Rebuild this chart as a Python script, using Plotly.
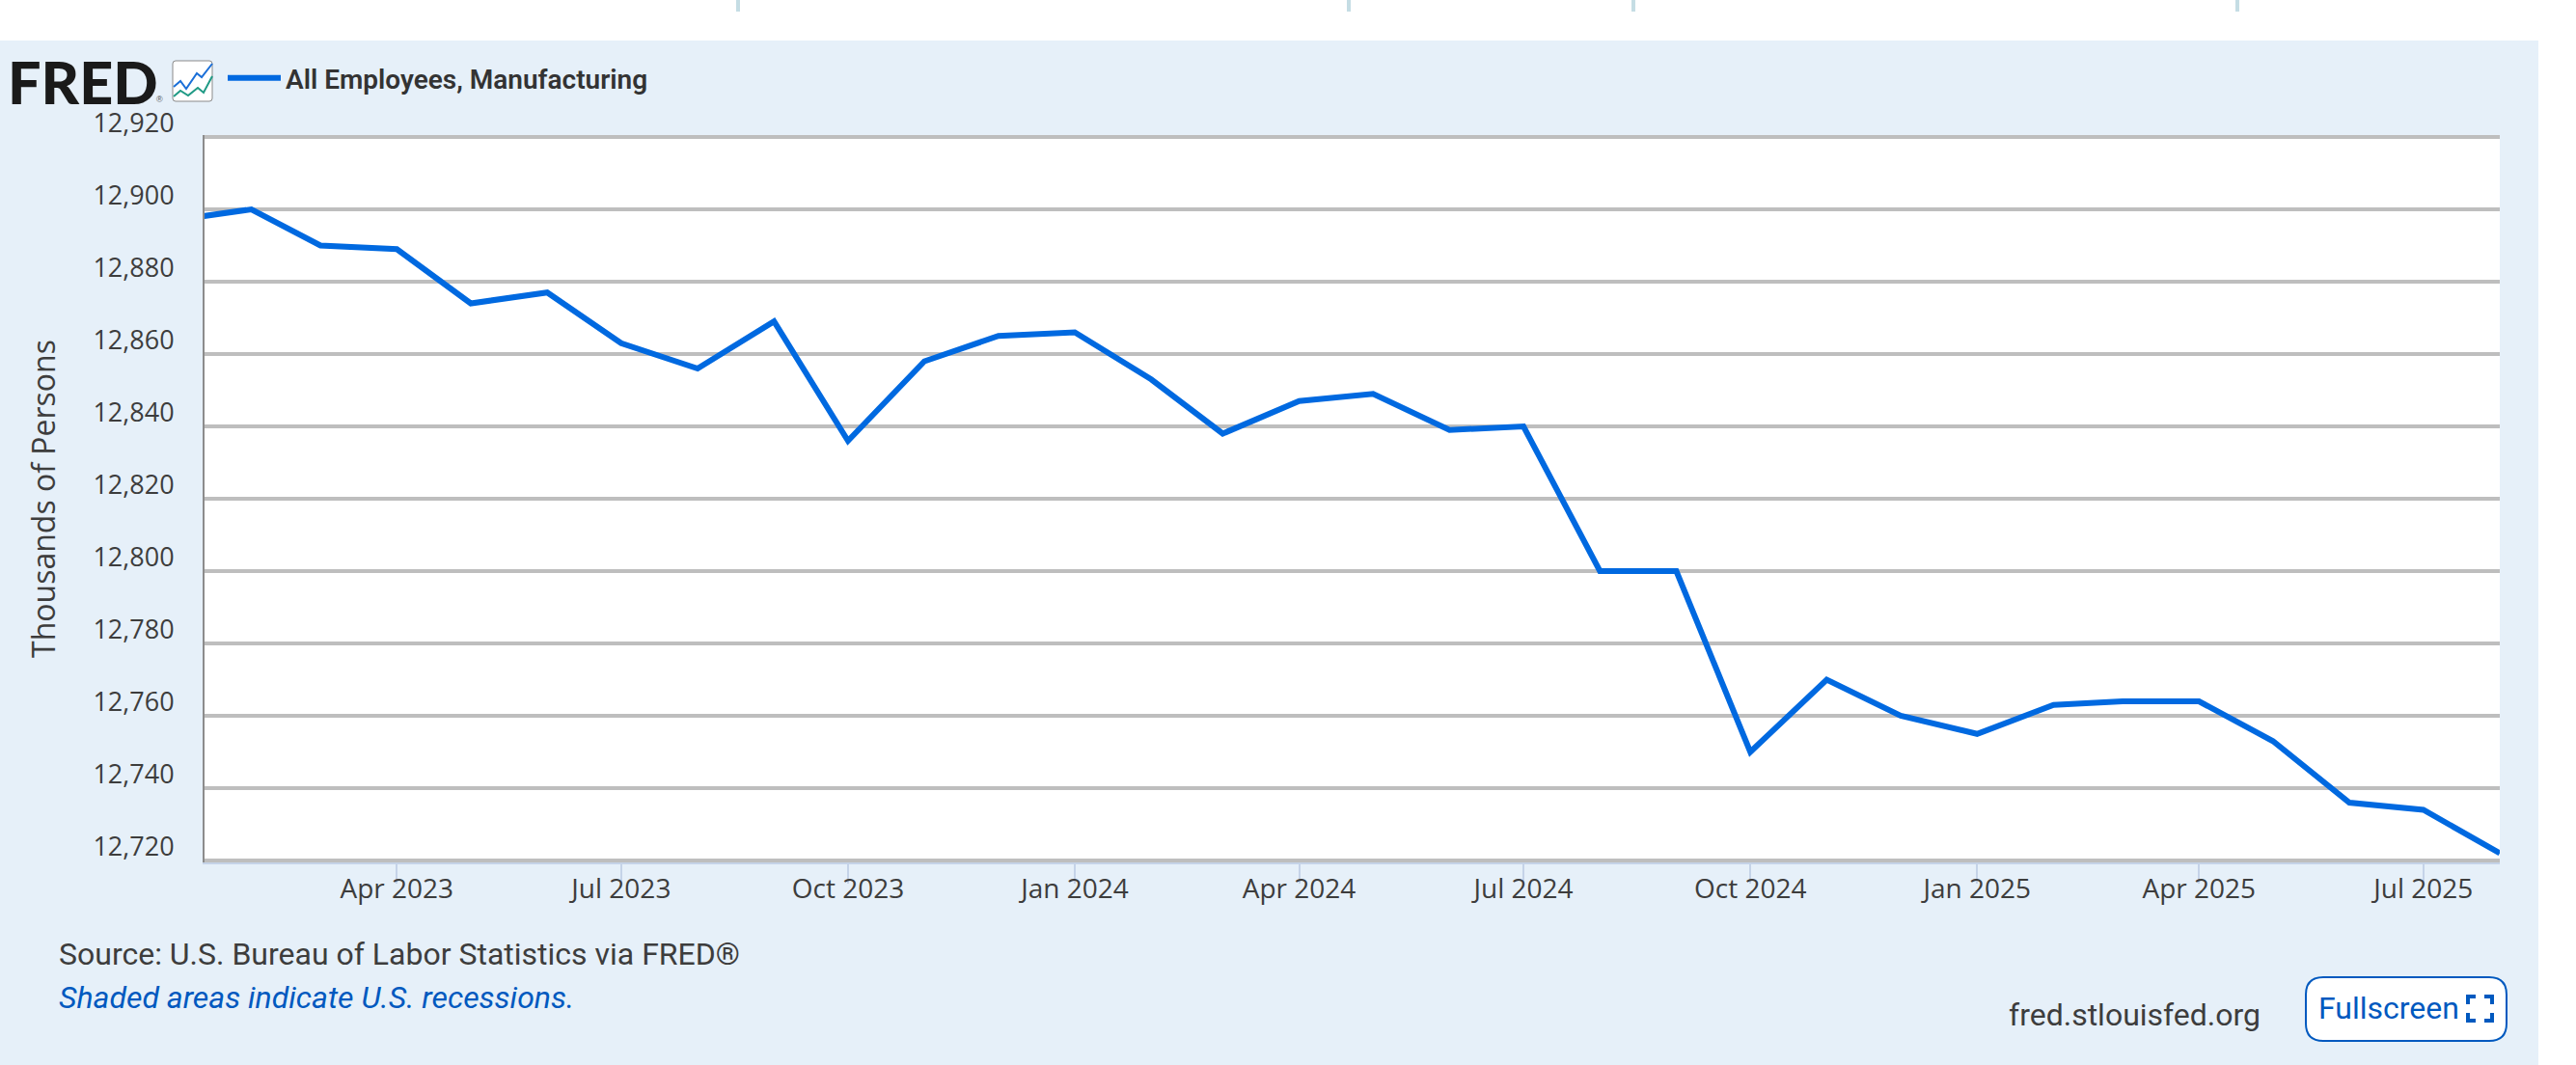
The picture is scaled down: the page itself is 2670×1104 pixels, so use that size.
import plotly.graph_objects as go

W, H = 2670, 1104
L, R, T, B = 212, 2591, 140, 894

dates = ["2023-01-01","2023-02-01","2023-03-01","2023-04-01","2023-05-01","2023-06-01","2023-07-01","2023-08-01",
         "2023-09-01","2023-10-01","2023-11-01","2023-12-01","2024-01-01","2024-02-01","2024-03-01","2024-04-01",
         "2024-05-01","2024-06-01","2024-07-01","2024-08-01","2024-09-01","2024-10-01","2024-11-01","2024-12-01",
         "2025-01-01","2025-02-01","2025-03-01","2025-04-01","2025-05-01","2025-06-01","2025-07-01","2025-08-01"]
employees = [12897,12900,12890,12889,12874,12877,12863,12856,12869,12836,12858,12865,12866,12853,12838,12847,
             12849,12839,12840,12800,12800,12750,12770,12760,12755,12763,12764,12764,12753,12736,12734,12722]
x_tick_dates = ["2023-04-01","2023-07-01","2023-10-01","2024-01-01","2024-04-01","2024-07-01","2024-10-01",
                "2025-01-01","2025-04-01","2025-07-01"]
x_tick_labels = ["Apr 2023","Jul 2023","Oct 2023","Jan 2024","Apr 2024","Jul 2024","Oct 2024",
                 "Jan 2025","Apr 2025","Jul 2025"]
y_ticks = [12720,12740,12760,12780,12800,12820,12840,12860,12880,12900,12920]
x_range = ["2023-01-13","2025-08-01"]
y_range = [12719.47,12920.53]

LINE = "#0069e0"; PANEL = "#e6f0f9"; GRID = "#bebebe"; TXT = "#3d3d3d"; LINK = "#0059bf"
OS = "Open Sans"; RB = "Roboto"

def px(x): return (x - L) / (R - L)
def py(y): return (B - y) / (B - T)

def rect(x0, y0, x1, y1, fill, line=None, lw=0, layer="below"):
    return dict(type="rect", xref="paper", yref="paper", x0=px(x0), x1=px(x1), y0=py(y0), y1=py(y1),
                fillcolor=fill, line=dict(color=line or fill, width=lw), layer=layer)

def poly(points, color, width):
    d = "M" + " L".join(f"{px(a):.5f},{py(b):.5f}" for a, b in points)
    return dict(type="path", xref="paper", yref="paper", path=d, line=dict(color=color, width=width), layer="above")

def rrect(x0, y0, x1, y1, r):
    rx, ry = r / (R - L), r / (B - T)
    a, b, c, e = px(x0), px(x1), py(y0), py(y1)
    return (f"M{a+rx},{c} L{b-rx},{c} Q{b},{c} {b},{c-ry} L{b},{e+ry} Q{b},{e} {b-rx},{e} "
            f"L{a+rx},{e} Q{a},{e} {a},{e+ry} L{a},{c-ry} Q{a},{c} {a+rx},{c} Z")

shapes = [
    rect(0, 0, W, 42, "white"),
    rect(2631, 0, W, H, "white"),
]
for sx in (765, 1398, 1693, 2319):
    shapes.append(rect(sx - 2, 0, sx + 2, 12, "#c5dde4"))
shapes.append(dict(type="path", xref="paper", yref="paper", path=rrect(179, 63, 220, 105, 3),
                   fillcolor="white", line=dict(color="#8a8a8a", width=1), layer="above"))
shapes.append(poly([(180,90),(187,84),(193,92),(204,76),(209,80),(220,66)], "#1a6fd8", 2))
shapes.append(poly([(180,100),(187,94),(195,99),(205,91),(211,96),(220,79)], "#1f9a85", 2))
shapes.append(dict(type="path", xref="paper", yref="paper", path=rrect(2390, 1013, 2598, 1079, 18),
                   fillcolor="white", line=dict(color=LINK, width=2), layer="above"))
for pts in ([(2558,1041),(2558,1033),(2566,1033)], [(2575,1033),(2583,1033),(2583,1041)],
            [(2558,1050),(2558,1058),(2566,1058)], [(2575,1058),(2583,1058),(2583,1050)]):
    shapes.append(poly(pts, LINK, 4))

def note(x, y, text, size, color=TXT, family=RB, anchor="left", **kw):
    return dict(xref="paper", yref="paper", x=px(x), y=py(y), text=text, showarrow=False, xanchor=anchor,
                yanchor="middle", font=dict(size=size, color=color, family=family, **kw))

annotations = [
    note(6, 84, "FRED", 61, "#1a1a1a", "Lato", weight=900),
    note(160, 103, "®", 9, "#555555", "Liberation Sans"),
    note(59, 989, "Source: U.S. Bureau of Labor Statistics via FRED®", 32),
    note(59, 1034, "<i>Shaded areas indicate U.S. recessions.</i>", 32, LINK),
    note(2080, 1052, "fred.stlouisfed.org", 32),
    note(2401, 1045, "Fullscreen", 32, LINK),
]

fig = go.Figure(go.Scatter(x=dates, y=employees, mode="lines", name="All Employees, Manufacturing",
                           line=dict(color=LINE, width=6, shape="linear"), showlegend=True))
fig.update_layout(
    width=W, height=H, autosize=False,
    margin=dict(l=L, r=W - R, t=T, b=H - B, pad=0),
    paper_bgcolor=PANEL, plot_bgcolor="white",
    shapes=shapes, annotations=annotations,
    showlegend=True,
    legend=dict(x=px(231), y=py(81), xanchor="left", yanchor="middle", itemwidth=55, bgcolor="rgba(0,0,0,0)",
                font=dict(family=RB, size=28, color="#333333", weight=600), itemclick=False),
)
fig.update_xaxes(type="date", range=x_range, tickmode="array", tickvals=x_tick_dates, ticktext=x_tick_labels,
                 ticks="outside", ticklen=20, tickwidth=2, tickcolor="#c5d3e8", showgrid=False, zeroline=False,
                 tickfont=dict(family=OS, size=28, color=TXT), showline=True, linecolor="#c5d3e8", linewidth=2,
                 ticklabelstandoff=-19, automargin=False)
fig.update_yaxes(range=y_range, tickmode="array", tickvals=y_ticks, ticktext=[f"{v:,}" for v in y_ticks],
                 showgrid=True, gridcolor=GRID, gridwidth=4, zeroline=False, ticks="", ticklabelshift=-14,
                 ticklabelstandoff=24, showline=True, linecolor="#8c8c8c", linewidth=2,
                 tickfont=dict(family=OS, size=27, color=TXT), automargin=False,
                 title=dict(text="Thousands of Persons", font=dict(family=OS, size=32, color=TXT), standoff=29))
fig.write_html("out.html", post_script="document.body.style.margin='0';document.body.style.overflow='hidden';",
               config=dict(displayModeBar=False))
